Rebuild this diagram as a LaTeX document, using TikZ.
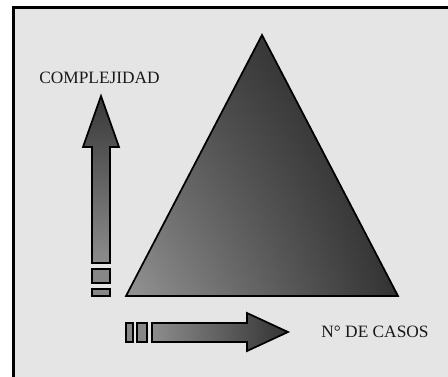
\documentclass[tikz,border=0pt]{standalone}
\usepackage{fontspec}
\setmainfont{Liberation Serif}
\usetikzlibrary{fadings}
\begin{document}
\begin{tikzpicture}[x=0.75pt,y=-0.75pt,
  outl/.style={draw=black,line width=1.3pt,line join=miter},
  block/.style={outl,fill=black!47},
  lbl/.style={font=\fontsize{13}{15}\selectfont,inner sep=0pt,text=black!90}]
\useasboundingbox (0,0) rectangle (448,376);
% panel
\fill[white] (0,0) rectangle (448,376);
\fill[black!10] (13.5,7.5) rectangle (452,380);
\draw[line width=2.2pt] (13.5,380) -- (13.5,7.5) -- (452,7.5);
% triangle
\shade[left color=black!42,right color=black!80]
  (126,296) -- (262,35) -- (398,296) -- cycle;
\fill[black,opacity=0.45,path fading=south]
  (126,296) -- (262,35) -- (398,296) -- cycle;
\draw[outl] (126,296) -- (262,35) -- (398,296) -- cycle;
% up arrow
\shade[top color=black!78,bottom color=black!45,outl]
  (92,263) -- (92,147) -- (83,147) -- (101,96) -- (119,147) -- (110,147) -- (110,263) -- cycle;
\draw[block] (92,269) rectangle (110,283);
\draw[block] (92,289) rectangle (110,296);
% right arrow
\shade[left color=black!45,right color=black!80,outl]
  (152,323) -- (247,323) -- (247,313) -- (288,332) -- (247,351) -- (247,342) -- (152,342) -- cycle;
\draw[block] (126,323) rectangle (133,342);
\draw[block] (137,323) rectangle (147,342);
% labels
\node[lbl] (complejidad) at (99.5,78) {COMPLEJIDAD};
\node[lbl] (casos) at (375,332) {N° DE CASOS};
\end{tikzpicture}
\end{document}
